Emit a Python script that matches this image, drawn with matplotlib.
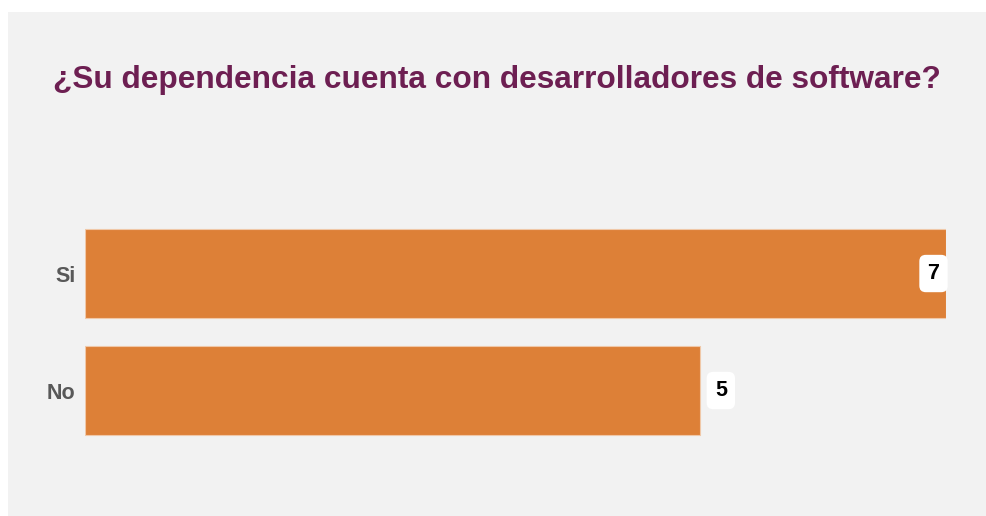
import matplotlib.pyplot as plt
from matplotlib.patches import Rectangle
from matplotlib import font_manager

categories = ['No', 'Si']
values = [5, 7]

title = '¿Su dependencia cuenta con desarrolladores de software?'

names = {f.name for f in font_manager.fontManager.ttflist}
narrow = 'Liberation Sans Narrow' if 'Liberation Sans Narrow' in names else 'Liberation Sans'

fig = plt.figure(figsize=(9.86, 5.16), dpi=100)
fig.patch.set_facecolor('white')
fig.patches.append(Rectangle((8 / 986, 0), 1, (516 - 12) / 516, transform=fig.transFigure,
                             facecolor='#f2f2f2', edgecolor='none', zorder=-5))

ax = fig.add_axes([85 / 986, 0.1298, (946 - 85) / 986, 0.4535])
ax.set_facecolor('none')
ax.barh(range(len(categories)), values, height=0.76, color='#dd8037',
        edgecolor='#f0c8a8', linewidth=0.8)
ax.set_xlim(0, max(values))
ax.set_ylim(-0.5, len(categories) - 0.5)
ax.set_yticks(range(len(categories)))
ax.set_yticklabels(categories, fontsize=15.5, fontweight='bold', color='#595959', family=narrow)
ax.tick_params(axis='y', length=0, pad=7)
ax.set_xticks([])
for s in ax.spines.values():
    s.set_visible(False)

for i, v in enumerate(values):
    if v == max(values):
        ax.annotate(str(v), (v, i), xytext=(-9, 0), textcoords='offset points',
                    ha='center', va='center', fontsize=15.5, fontweight='bold', family=narrow,
                    bbox=dict(boxstyle='round,pad=0.38,rounding_size=0.3', fc='white', ec='none'))
    else:
        ax.annotate(str(v), (v, i), xytext=(15, 0), textcoords='offset points',
                    ha='center', va='center', fontsize=15.5, fontweight='bold', family=narrow,
                    bbox=dict(boxstyle='round,pad=0.38,rounding_size=0.3', fc='white', ec='none'))

fig.text(497 / 986, 1 - 80 / 516, title, ha='center', va='center', fontsize=22.8,
         fontweight='bold', color='#6d1f52', family=narrow)

fig.savefig('out.png', dpi=100)
